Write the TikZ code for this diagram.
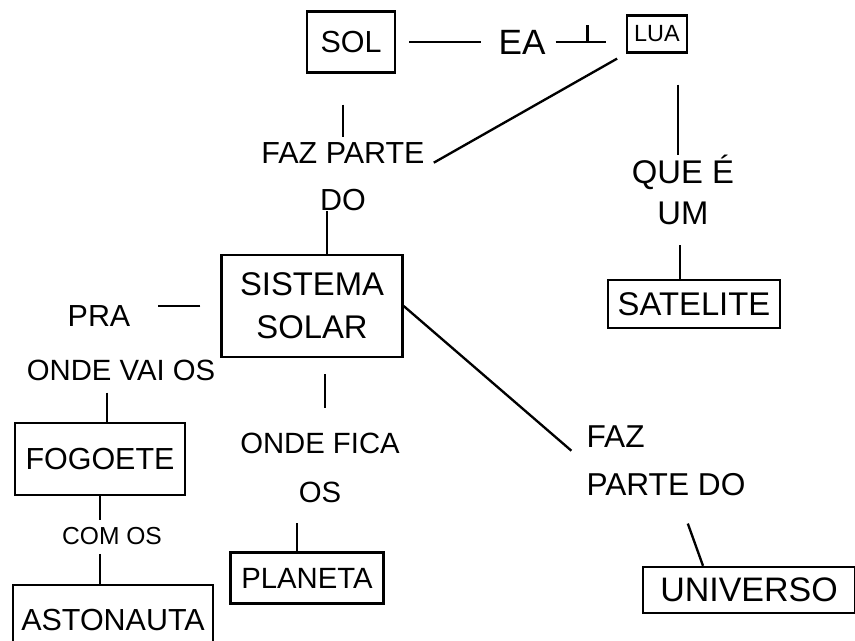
\documentclass[tikz,border=0pt]{standalone}
\usepackage{fontspec}
\setmainfont{Liberation Sans}
\newcommand\ux{0.03cm}
\tikzset{
  box/.style={draw, line width=2pt, inner sep=0pt, font=\fontsize{27}{32}\selectfont},
  lbl/.style={inner sep=0pt, font=\fontsize{26}{40}\selectfont},
  conn/.style={line width=2pt},
}
\begin{document}
\begin{tikzpicture}[x=0.03cm, y=-0.03cm]
\useasboundingbox[fill=white] (0,0) rectangle (855,641);

% boxes
\node[box, minimum width=88*\ux, minimum height=61*\ux, font=\fontsize{26}{30}\selectfont] (sol) at (351,42) {SOL};
\node[box, minimum width=60*\ux, minimum height=37*\ux, font=\fontsize{20}{24}\selectfont] (lua) at (657,34) {LUA};
\node[box, minimum width=181*\ux, minimum height=102*\ux, align=center, font=\fontsize{28}{37}\selectfont] (sis) at (312,306) {SISTEMA\\SOLAR};
\node[box, minimum width=172*\ux, minimum height=48*\ux, font=\fontsize{28}{32}\selectfont] (sat) at (694,304) {SATELITE};
\node[box, minimum width=170*\ux, minimum height=72*\ux, font=\fontsize{26}{30}\selectfont] (fog) at (100,459) {FOGOETE};
\node[box, minimum width=200*\ux, minimum height=70*\ux, font=\fontsize{26}{30}\selectfont] (ast) at (113,620) {ASTONAUTA};
\node[box, minimum width=153*\ux, minimum height=51*\ux, font=\fontsize{25}{30}\selectfont] (pla) at (307,578) {PLANETA};
\node[box, minimum width=212*\ux, minimum height=46*\ux, font=\fontsize{29}{32}\selectfont] (uni) at (749,590) {UNIVERSO};

% labels
\node[lbl, font=\fontsize{30}{34}\selectfont] (ea) at (522,42) {EA};
\node[lbl, align=center] (fp1) at (343,177) {FAZ PARTE\\DO};
\node[lbl, align=center, font=\fontsize{28}{35}\selectfont] (que) at (683,190) {QUE É\\UM};
\node[lbl] (pra) at (99,316) {PRA};
\node[lbl, font=\fontsize{25}{30}\selectfont] (onde) at (121,370) {ONDE VAI OS};
\node[lbl, font=\fontsize{21}{26}\selectfont] (com) at (112,536) {COM OS};
\node[lbl, align=center, font=\fontsize{25}{42}\selectfont] (fica) at (320,468) {ONDE FICA\\OS};
\node[lbl, align=left, font=\fontsize{27}{41}\selectfont] (faz) at (666,461) {FAZ\\PARTE DO};

% connectors
\draw[conn, shorten <=13*\ux, shorten >=17*\ux] (sol.east |- ea.west) -- (ea.west);
\draw[conn, shorten <=10*\ux, shorten >=20*\ux] (ea.east) -- (ea.east -| lua.west);
\path (ea.east) -- (ea.east -| lua.west) coordinate[pos=0.52] (tk);
\draw[conn] (tk) -- ++(0,-17);
\draw[conn, shorten <=10*\ux] (lua.south west) -- ([xshift=9*\ux, yshift=-20*\ux]fp1.north east);
\draw[conn, shorten <=31*\ux, shorten >=6*\ux] (sol.south -| fp1.north) -- (fp1.north);
\draw[conn] ([xshift=-16*\ux]fp1.south) -- ([xshift=-16*\ux]fp1.south |- sis.north);
\draw[conn, shorten <=31*\ux] ([xshift=21*\ux]lua.south) -- ([xshift=21*\ux]lua.south |- que.north);
\draw[conn, shorten <=20*\ux] ([xshift=-3*\ux]que.south) -- ([xshift=-3*\ux]que.south |- sat.north);
\draw[conn, shorten <=20*\ux, shorten >=27*\ux] (sis.west) -- (sis.west -| pra.east);
\draw[conn, shorten <=12*\ux] ([xshift=-14*\ux]onde.south) -- ([xshift=-14*\ux]onde.south |- fog.north);
\draw[conn, shorten >=7*\ux] (fog.south) -- (fog.south |- com.north);
\draw[conn, shorten <=9*\ux] (fog.south |- com.south) -- (fog.south |- ast.north);
\draw[conn, shorten <=16*\ux, shorten >=25*\ux] ([xshift=13*\ux]sis.south) -- ([xshift=13*\ux]sis.south |- fica.north);
\draw[conn, shorten <=20*\ux] ([xshift=-10*\ux]pla.north |- fica.south) -- ([xshift=-10*\ux]pla.north);
\draw[conn] (sis.east) -- ([xshift=-15*\ux, yshift=-25*\ux]faz.north west);
\draw[conn, shorten <=29*\ux] ([xshift=12*\ux]faz.south) -- ([xshift=-46*\ux]uni.north);
\end{tikzpicture}
\end{document}
